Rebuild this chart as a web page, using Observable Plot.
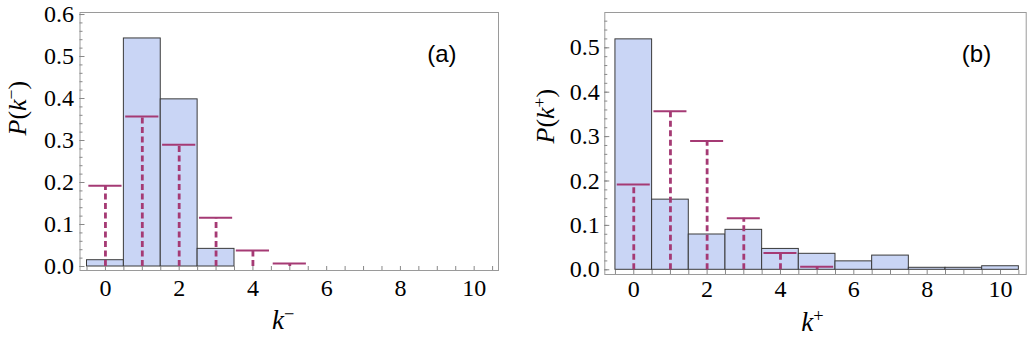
<!DOCTYPE html>
<html><head><meta charset="utf-8">
<script src="https://cdn.jsdelivr.net/npm/d3@7"></script>
<script src="https://cdn.jsdelivr.net/npm/@observablehq/plot@0.6"></script>
<style>
html,body{margin:0;padding:0;background:#fff;}
#wrap{display:flex;width:1029px;height:345px;overflow:hidden;}
#wrap svg{flex:none;display:block;}
</style></head><body><div id="wrap"></div>
<script>
// Observed histograms
const binsMinus = [0, 1, 2, 3];
const probMinus = [0.015, 0.543, 0.398, 0.042];
const binsPlus = [0, 1, 2, 3, 4, 5, 6, 7, 8, 9, 10];
const probPlus = [0.519, 0.158, 0.0795, 0.090, 0.047, 0.036, 0.019, 0.032, 0.0045, 0.0045, 0.008];
// Theoretical distribution (dashed stems)
const kTheory = [0, 1, 2, 3, 4, 5];
const pTheory = [0.192, 0.357, 0.290, 0.116, 0.038, 0.007];
// Tick labels
const xTickLabels = [0, 2, 4, 6, 8, 10];
const yTickLabelsA = [0, 0.1, 0.2, 0.3, 0.4, 0.5, 0.6];
const yTickLabelsB = [0, 0.1, 0.2, 0.3, 0.4, 0.5];
// Texts
const yLabelA = "P(k⁻)", xLabelA = "k⁻", tagA = "(a)";
const yLabelB = "P(k⁺)", xLabelB = "k⁺", tagB = "(b)";

const MAGENTA = "#a53a74";
const FILL = "#c9d5f5";

function mathify(svg) {
  d3.select(svg).selectAll("text").each(function () {
    const t = this.textContent;
    let m = t.match(/^P\(k([⁻⁺])\)$/);
    let m2 = t.match(/^k([⁻⁺])$/);
    if (!m && !m2) return;
    const sign = (m || m2)[1] === "⁻" ? "\u2212" : "+";
    const el = d3.select(this);
    el.text(null);
    if (m) {
      el.append("tspan").attr("font-style", "italic").text("P");
      el.append("tspan").text("(");
    }
    el.append("tspan").attr("font-style", "italic").text("k");
    el.append("tspan").attr("font-size", "0.68em").attr("dy", -9).text(sign);
    if (m) el.append("tspan").attr("dy", 9).text(")");
  });
}

function panel(o) {
  const W = o.width, H = 345;
  const plotW = W - o.ml - o.mr, plotH = H - o.mt - o.mb;
  const bars = o.bins.map((k, i) => ({k, p: o.probs[i]}));
  const theory = kTheory.map((k, i) => ({k, p: pTheory[i]}));
  const yMinor = d3.range(0, Math.round(o.yDomain[1] * 50) + 1).map(i => i / 50).filter(v => v <= o.yDomain[1]);
  const yMajor = o.yLabels;
  const xMinor = d3.range(-1, 22).map(i => i / 2).filter(v => v >= o.xDomain[0] && v <= o.xDomain[1]);
  const svg = Plot.plot({
    width: W, height: H,
    marginLeft: o.ml, marginRight: o.mr, marginTop: o.mt, marginBottom: o.mb,
    x: {domain: o.xDomain},
    y: {domain: o.yDomain},
    style: {fontFamily: "'Liberation Serif', serif", fontSize: "24px", background: "white", overflow: "visible"},
    marks: [
      Plot.rectY(bars, {x1: d => d.k - 0.5, x2: d => d.k + 0.5, y1: 0, y2: "p", fill: FILL, stroke: "#3a3a3a", strokeWidth: 1}),
      Plot.ruleX(theory, {x: "k", y1: 0, y2: "p", stroke: MAGENTA, strokeWidth: 2.8, strokeDasharray: "6,3.5"}),
      Plot.ruleY(theory, {y: "p", x1: d => d.k - 0.45, x2: d => d.k + 0.45, stroke: MAGENTA, strokeWidth: 2}),
      Plot.frame({stroke: "#9a9a9a", strokeWidth: 1}),
      Plot.tickY(yMinor, {y: d => d, insetRight: plotW - 3, stroke: "#888", strokeWidth: 1}),
      Plot.tickY(yMajor, {y: d => d, insetRight: plotW - 5, stroke: "#888", strokeWidth: 1}),
      Plot.tickX(xMinor, {x: d => d, insetTop: plotH - 4, stroke: "#888", strokeWidth: 1}),
      Plot.axisY({ticks: o.yLabels, tickSize: 0, tickPadding: o.yPad, tickFormat: d3.format(".1f"), label: null, fontSize: 24}),
      Plot.axisX({ticks: xTickLabels, tickSize: 0, tickPadding: o.xPad, tickFormat: d => String(d), label: null, fontSize: 24}),
      Plot.text([o.yLabel], {text: d => d, frameAnchor: "left", rotate: -90, dx: o.yLabelDx, dy: o.yLabelDy, fontSize: 26}),
      Plot.text([o.xLabel], {text: d => d, frameAnchor: "bottom", lineAnchor: "bottom", dx: o.xLabelDx, dy: o.xLabelDy, fontSize: 27}),
      Plot.text([o.tag], {text: d => d, frameAnchor: "top-right", textAnchor: "end", lineAnchor: "middle", dx: o.tagDx, dy: 42, fontFamily: "'Liberation Sans', Arial, sans-serif", fontSize: 24})
    ]
  });
  mathify(svg);
  return svg;
}

const wrap = document.getElementById("wrap");
wrap.appendChild(panel({
  width: 514, ml: 79.5, mr: 16, mt: 12, mb: 75,
  xDomain: [-0.69, 10.66], yDomain: [-0.0095, 0.6048],
  bins: binsMinus, probs: probMinus, yLabels: yTickLabelsA,
  yPad: 6, xPad: 8,
  yLabel: yLabelA, yLabelDx: -62, yLabelDy: -6,
  xLabel: xLabelA, xLabelDx: -6, xLabelDy: 58,
  tag: tagA, tagDx: -42
}));
wrap.appendChild(panel({
  width: 515, ml: 90.3, mr: 3.3, mt: 12, mb: 71,
  xDomain: [-0.79, 10.70], yDomain: [-0.0106, 0.5795],
  bins: binsPlus, probs: probPlus, yLabels: yTickLabelsB,
  yPad: 5, xPad: 5,
  yLabel: yLabelB, yLabelDx: -59, yLabelDy: 0,
  xLabel: xLabelB, xLabelDx: -3, xLabelDy: 56,
  tag: tagB, tagDx: -35
}));
</script></body></html>
